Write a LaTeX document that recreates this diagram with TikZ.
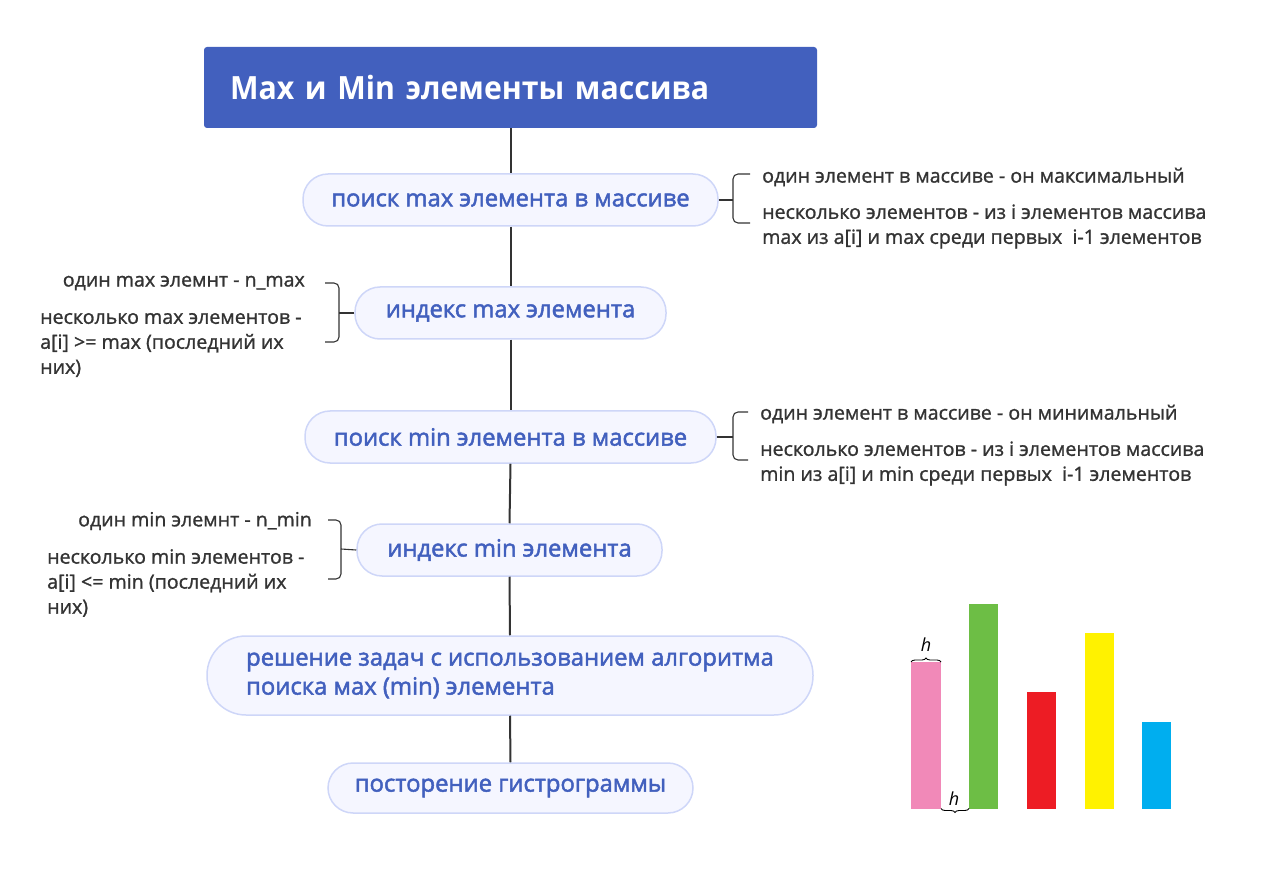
\documentclass[tikz,border=0pt]{standalone}
\usepackage{fontspec}
\setmainfont{Open Sans}
\newfontfamily\titlefont{Open Sans}[FakeStretch=0.945]
\newfontfamily\nodefont{Open Sans}[FakeBold=2]
\newfontfamily\bodyfont{Open Sans}[FakeBold=1.2]
\usetikzlibrary{decorations.pathreplacing}
\definecolor{titleblue}{RGB}{66,96,190}
\definecolor{pillfill}{RGB}{245,246,255}
\definecolor{pillline}{RGB}{206,214,248}
\definecolor{ink}{RGB}{51,51,51}
\definecolor{barpink}{RGB}{241,137,184}
\definecolor{bargreen}{RGB}{109,190,69}
\definecolor{barred}{RGB}{237,28,36}
\definecolor{baryellow}{RGB}{255,242,0}
\definecolor{barcyan}{RGB}{0,174,239}
\begin{document}
\begin{tikzpicture}[x=1pt,y=-1pt,
  title/.style={fill=titleblue, rounded corners=3pt, minimum width=613pt, minimum height=81pt,
     text width=561pt, inner xsep=26pt, align=left, text=white,
     font=\titlefont\fontsize{32}{38}\selectfont\bfseries},
  pill/.style={draw=pillline, line width=1.5pt, fill=pillfill, text=titleblue, minimum height=52pt,
     rounded corners=25pt, font=\nodefont\fontsize{23.8}{29}\selectfont, align=left},
  spine/.style={draw=ink, line width=2pt},
  br/.style={draw=ink, line width=1.1pt},
  body/.style={text=ink, font=\bodyfont\fontsize{19.6}{25}\selectfont, align=left, inner sep=0pt},
  hlab/.style={font=\itshape\fontsize{18}{20}\selectfont, text=black, inner sep=0pt}
]
\useasboundingbox (0,0) rectangle (1270,877);

\node[title] (t) at (510.5,87.5) {Max и Min элементы массива};
\node[pill, minimum width=415pt] (n1) at (510.5,200) {поиск max элемента в массиве};
\node[pill, minimum width=311pt] (n2) at (510.5,313) {индекс max элемента};
\node[pill, minimum width=411pt] (n3) at (510.5,437) {поиск min элемента в массиве};
\node[pill, minimum width=305pt] (n4) at (509.5,550) {индекс min элемента};
\node[pill, minimum width=606pt, minimum height=79pt, rounded corners=39pt] (n5) at (510,675.5)
  {решение задач с использованием алгоритма\\поиска мах (min) элемента};
\node[pill, minimum width=365pt, minimum height=50pt] (n6) at (510.5,788) {посторение гистрограммы};

\draw[spine] (t.south) -- (n1.north);
\draw[spine] (n1.south) -- (n2.north);
\draw[spine] (n2.south) -- (n3.north);
\draw[spine] (n3.south) -- (n4.north);
\draw[spine] (n4.south) -- (n5.north);
\draw[spine] (n5.south) -- (n6.north);

% brackets n1
\draw[br] (n1.east) -- (733,200);
\draw[br, rounded corners=5pt] (750,174) -- (733,174) -- (733,223) -- (750,223);
\node[body, anchor=west] (a1) at (762,177) {один элемент в массиве - он максимальный};
\node[body, anchor=west] (a2) at (762,226.5) {несколько элементов - из i элементов массива\\max из a[i] и max среди первых \ i-1 элементов};

% brackets n2
\draw[br] (n2.west) -- (339,313);
\draw[br, rounded corners=5pt] (325,283) -- (339,283) -- (339,342) -- (325,342);
\node[body, anchor=east] (b1) at (305,283) {один max элемнт - n\_max};
\node[body, anchor=west] (b2) at (40,345) {несколько max элементов -\\a[i] >= max (последний их\\них)};

% brackets n3
\draw[br] (n3.east) -- (733,437);
\draw[br, rounded corners=5pt] (748,412) -- (733,412) -- (733,460) -- (748,460);
\node[body, anchor=west] (c1) at (760,414) {один элемент в массиве - он минимальный};
\node[body, anchor=west] (c2) at (760,463.5) {несколько элементов - из i элементов массива\\min из a[i] и min среди первых \ i-1 элементов};

% brackets n4
\draw[br] (n4.west) -- (341,549);
\draw[br, rounded corners=5pt] (328,520) -- (341,520) -- (341,579) -- (328,579);
\node[body, anchor=east] (d1) at (312,521) {один min элемнт - n\_min};
\node[body, anchor=west] (d2) at (47,583) {несколько min элементов -\\a[i] <= min (последний их\\них)};

% histogram
\fill[barpink] (911,662) rectangle (941,808.5);
\fill[bargreen] (969,604) rectangle (998,808.5);
\fill[barred] (1027,692) rectangle (1056,808.5);
\fill[baryellow] (1085,633) rectangle (1114,808.5);
\fill[barcyan] (1142,722) rectangle (1171,808.5);
\draw[line width=0.9pt, decorate, decoration={brace, amplitude=4pt}] (911,662) -- (941,662);
\draw[line width=0.9pt, decorate, decoration={brace, amplitude=4pt}] (969,808.5) -- (941,808.5);
\node[hlab] (h1) at (926,645) {h};
\node[hlab] (h2) at (954,799) {h};
\end{tikzpicture}
\end{document}
